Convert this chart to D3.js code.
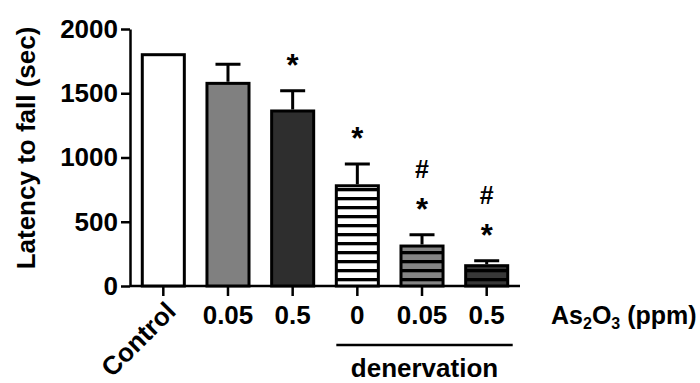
<!DOCTYPE html>
<html>
<head>
<meta charset="utf-8">
<script src="https://cdn.jsdelivr.net/npm/d3@7"></script>
<style>
  body { margin: 0; background: #fff; }
  text { font-family: "Liberation Sans", Arial, sans-serif; font-weight: bold; fill: #000; }
</style>
</head>
<body>
<div id="chart"></div>
<script>
// data
const groupLabels = ["Control", "0.05", "0.5", "0", "0.05", "0.5"];
const meanLatency = [1800, 1577, 1362, 780, 311, 158];
const semLatency = [0, 148, 158, 169, 88, 39];
const starMark = [false, false, true, true, true, true];
const hashMark = [false, false, false, false, true, true];
const yTicks = [0, 500, 1000, 1500, 2000];

const W = 700, H = 383;
const plot = { left: 130, right: 520, top: 29, bottom: 286 };

const svg = d3.select("#chart").append("svg")
    .attr("width", W)
    .attr("height", H);

// bar fills
const defs = svg.append("defs");
const stripeBg = ["#ffffff", "#858585", "#383838"];
stripeBg.forEach((c, i) => {
    const p = defs.append("pattern")
        .attr("id", "stripe" + i)
        .attr("patternUnits", "userSpaceOnUse")
        .attr("width", 10)
        .attr("height", 9)
        .attr("y", plot.bottom + 1);
    p.append("rect").attr("width", 10).attr("height", 9).attr("fill", c);
    p.append("rect").attr("width", 10).attr("height", 3.3).attr("fill", "#000");
});
const barFill = ["#ffffff", "#808080", "#2e2e2e", "url(#stripe0)", "url(#stripe1)", "url(#stripe2)"];

const idx = d3.range(groupLabels.length);

const x = d3.scaleBand()
    .domain(idx)
    .range([plot.left, plot.right])
    .paddingInner(0.35)
    .paddingOuter(0.19);

const y = d3.scaleLinear()
    .domain([0, 2000])
    .range([plot.bottom, plot.top]);

// Y axis
const yAxis = svg.append("g")
    .attr("transform", `translate(${plot.left},0)`)
    .call(d3.axisLeft(y).tickValues(yTicks).tickFormat(d3.format("d"))
        .tickSize(9).tickPadding(3).tickSizeOuter(0));
yAxis.select(".domain").attr("stroke-width", 2.5);
yAxis.selectAll(".tick line").attr("stroke-width", 2.5);
yAxis.selectAll("text").style("font-size", "26px").attr("fill", "#000");

// X axis
const xAxis = svg.append("g")
    .attr("transform", `translate(0,${plot.bottom})`)
    .call(d3.axisBottom(x).tickSize(10).tickPadding(10).tickSizeOuter(0)
        .tickFormat(i => groupLabels[i]));
xAxis.select(".domain").attr("stroke-width", 2.5).attr("d", `M${plot.left},0H${plot.right}`);
xAxis.selectAll(".tick line").attr("stroke-width", 2.5);
xAxis.selectAll("text").style("font-size", "26px").attr("fill", "#000");
// Control label rotated
xAxis.selectAll(".tick").filter(d => d === 0).select("text")
    .attr("text-anchor", "end")
    .attr("dy", null)
    .attr("y", null)
    .attr("transform", "translate(14,27) rotate(-45)");

// Bars
svg.selectAll(".bar")
    .data(idx)
    .enter()
    .append("rect")
    .attr("class", "bar")
    .attr("x", i => x(i))
    .attr("y", i => y(meanLatency[i]))
    .attr("width", x.bandwidth())
    .attr("height", i => y(0) - y(meanLatency[i]))
    .attr("fill", i => barFill[i])
    .attr("stroke", "#000")
    .attr("stroke-width", 3);

// Error bars (upper only)
const cx = i => x(i) + x.bandwidth() / 2;
const errIdx = idx.filter(i => semLatency[i] > 0);
svg.selectAll(".err")
    .data(errIdx)
    .enter()
    .append("path")
    .attr("class", "err")
    .attr("d", i => {
        const yt = y(meanLatency[i] + semLatency[i]);
        const yb = y(meanLatency[i]) - 1.5;
        return `M${cx(i)},${yb}V${yt}M${cx(i) - 12.5},${yt}H${cx(i) + 12.5}`;
    })
    .attr("fill", "none")
    .attr("stroke", "#000")
    .attr("stroke-width", 3);

// Significance marks
svg.selectAll(".star")
    .data(idx.filter(i => starMark[i]))
    .enter()
    .append("text")
    .attr("class", "star")
    .attr("x", cx)
    .attr("y", i => y(meanLatency[i] + semLatency[i]) - 33 + 18)
    .attr("text-anchor", "middle")
    .style("font-size", "31px")
    .text("*");

svg.selectAll(".hash")
    .data(idx.filter(i => hashMark[i]))
    .enter()
    .append("text")
    .attr("class", "hash")
    .attr("x", cx)
    .attr("y", i => y(meanLatency[i] + semLatency[i]) - 66 + 9)
    .attr("text-anchor", "middle")
    .style("font-size", "25px")
    .text("#");

// Y axis title
svg.append("text")
    .attr("transform", "translate(35,148) rotate(-90)")
    .attr("text-anchor", "middle")
    .style("font-size", "26px")
    .text("Latency to fall (sec)");

// As2O3 (ppm)
const unit = svg.append("text")
    .attr("x", 551)
    .attr("y", 324)
    .style("font-size", "25px");
unit.append("tspan").text("As");
unit.append("tspan").attr("dy", 5).style("font-size", "16px").text("2");
unit.append("tspan").attr("dy", -5).text("O");
unit.append("tspan").attr("dy", 5).style("font-size", "16px").text("3");
unit.append("tspan").attr("dy", -5).text(" (ppm)");

// denervation bracket
const dx0 = x(3), dx1 = x(5) + x.bandwidth() + 5;
svg.append("line")
    .attr("x1", dx0).attr("x2", dx1)
    .attr("y1", 345).attr("y2", 345)
    .attr("stroke", "#000")
    .attr("stroke-width", 2.5);
svg.append("text")
    .attr("x", (dx0 + dx1) / 2)
    .attr("y", 377)
    .attr("text-anchor", "middle")
    .style("font-size", "26px")
    .text("denervation");
</script>
</body>
</html>
